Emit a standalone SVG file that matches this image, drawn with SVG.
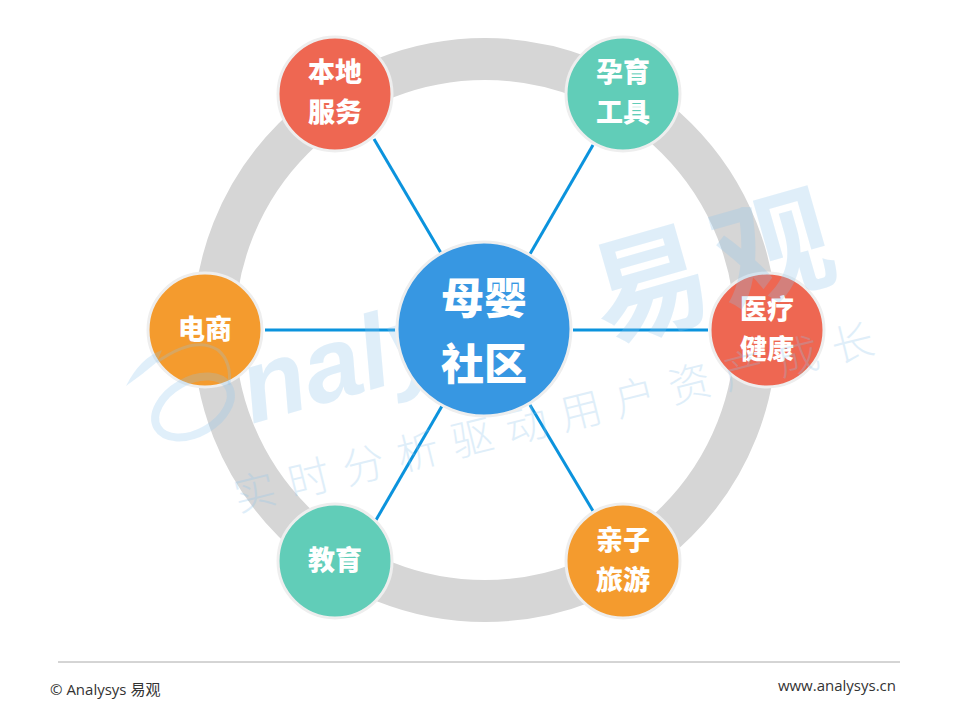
<svg xmlns="http://www.w3.org/2000/svg" width="960" height="720" viewBox="0 0 960 720">
<style>
.n{stroke:#eeeeee;stroke-width:3}
.l{fill:#fff;font-family:"Noto Sans CJK SC","Noto Sans",sans-serif;font-weight:900;font-size:27px;text-anchor:middle}
.c{stroke:#0b93dd;stroke-width:3;fill:none}
.f{font-family:"Open Sans","Noto Sans CJK SC",sans-serif;font-size:15px;fill:#333}
.w{fill:#8cc4ec;opacity:.27}
.s{fill:none;stroke:#8cc4ec;opacity:.27}
</style>
<rect width="960" height="720" fill="#fff"/>
<circle cx="485" cy="330" r="271" fill="none" stroke="#d6d6d6" stroke-width="42"/>
<g id="connectors">
<line class="c" x1="374" y1="139" x2="441" y2="253"/>
<line class="c" x1="593" y1="145" x2="530" y2="254"/>
<line class="c" x1="573" y1="330" x2="708" y2="330"/>
<line class="c" x1="530" y1="405" x2="593" y2="511"/>
<line class="c" x1="442" y1="406" x2="376" y2="520"/>
<line class="c" x1="265" y1="330" x2="395" y2="330"/>
</g>
<g id="local"><circle class="n" cx="335" cy="94" r="57" fill="#ee6752"/>
<text class="l" x="335" y="82">本地</text><text class="l" x="335" y="122">服务</text></g>
<g id="tools"><circle class="n" cx="623" cy="94" r="57" fill="#61cdb8"/>
<text class="l" x="623" y="82">孕育</text><text class="l" x="623" y="122">工具</text></g>
<g id="medical"><circle class="n" cx="767" cy="330" r="57" fill="#ee6752"/>
<text class="l" x="767" y="319">医疗</text><text class="l" x="767" y="359">健康</text></g>
<g id="travel"><circle class="n" cx="623" cy="561" r="57" fill="#f49b2e"/>
<text class="l" x="623" y="550">亲子</text><text class="l" x="623" y="590">旅游</text></g>
<g id="education"><circle class="n" cx="335" cy="561" r="57" fill="#61cdb8"/>
<text class="l" x="335" y="570">教育</text></g>
<g id="ecommerce"><circle class="n" cx="205" cy="330" r="57" fill="#f49b2e"/>
<text class="l" x="205" y="339">电商</text></g>
<g id="watermark">
<text class="w" transform="translate(605,342) rotate(-16)" style="font-family:'Noto Sans CJK SC',sans-serif;font-weight:700;font-size:118px;letter-spacing:10px">易观</text>
<text class="w" transform="translate(252,424) rotate(-16)" style="font-family:'Liberation Sans',sans-serif;font-style:italic;font-weight:700;font-size:104px">nalys</text>
<ellipse class="s" cx="193" cy="407" rx="41" ry="26" transform="rotate(-30 193 407)" stroke-width="8"/>
<path class="s" d="M157 362Q195 335 218 350Q232 362 229 385" stroke-width="3"/>
<path class="w" d="M126 386Q140 358 162 350L157 362Q143 374 126 386Z"/>
<text class="w" transform="translate(238,512) rotate(-14)" style="font-family:'Noto Sans CJK SC',sans-serif;font-weight:300;font-size:42px;letter-spacing:14px">实时分析驱动用户资产成长</text>
</g>
<g id="center"><circle class="n" cx="484" cy="329" r="87" fill="#3797e2"/>
<text class="l" style="font-size:43px" x="484" y="314">母婴</text><text class="l" style="font-size:43px" x="484" y="380">社区</text></g>
<line x1="58" y1="662" x2="900" y2="662" stroke="#aaaaaa" stroke-width="1"/>
<text class="f" x="50" y="695">© Analysys 易观</text>
<text class="f" x="896" y="691" text-anchor="end">www.analysys.cn</text>
</svg>
